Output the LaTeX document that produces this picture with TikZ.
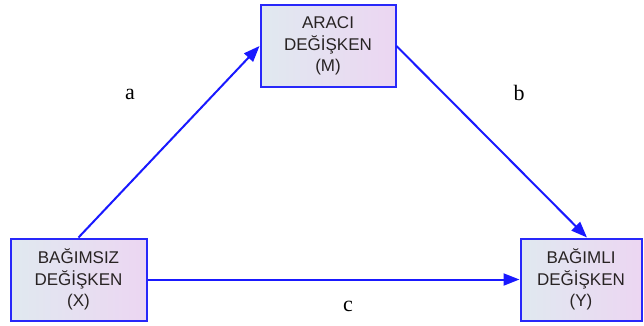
\documentclass[tikz,border=0pt]{standalone}
\usepackage{fontspec}
\setmainfont{Liberation Serif}
\newfontfamily\boxfont{Liberation Sans}
\usetikzlibrary{arrows.meta,shadings}
\definecolor{boxblue}{RGB}{40,40,250}
\definecolor{arrowblue}{RGB}{25,25,255}
\definecolor{gradleft}{RGB}{224,233,240}
\definecolor{gradright}{RGB}{236,214,242}
\definecolor{boxtext}{RGB}{40,35,35}
\tikzset{
  varbox/.style={draw=boxblue, line width=2pt, left color=gradleft, right color=gradright,
    minimum height=82pt, align=center, inner sep=0pt,
    font=\boxfont\fontsize{17}{21.5}\selectfont, text=boxtext},
  conn/.style={draw=arrowblue, line width=2pt, -{Triangle[length=16pt,width=12pt]}},
  lbl/.style={font=\fontsize{22}{24}\selectfont, text=black}
}
\begin{document}
\begin{tikzpicture}[x=1pt,y=1pt]
\useasboundingbox (0,0) rectangle (644,325);
\node[varbox, minimum width=135pt] (M) at (328,279) {ARACI\\DEĞİŞKEN\\(M)};
\node[varbox, minimum width=136pt] (X) at (78.5,45.5) {BAĞIMSIZ\\DEĞİŞKEN\\(X)};
\node[varbox, minimum width=121pt] (Y) at (581,45.5) {BAĞIMLI\\DEĞİŞKEN\\(Y)};
\draw[conn] (X.north) -- (M.west);
\draw[conn] (M.east) -- ([xshift=6pt]Y.north);
\draw[conn] (X.east) -- (Y.west);
\node[lbl] (la) at (130,231) {a};
\node[lbl] (lb) at (519,232) {b};
\node[lbl] (lc) at (348,19) {c};
\end{tikzpicture}
\end{document}
